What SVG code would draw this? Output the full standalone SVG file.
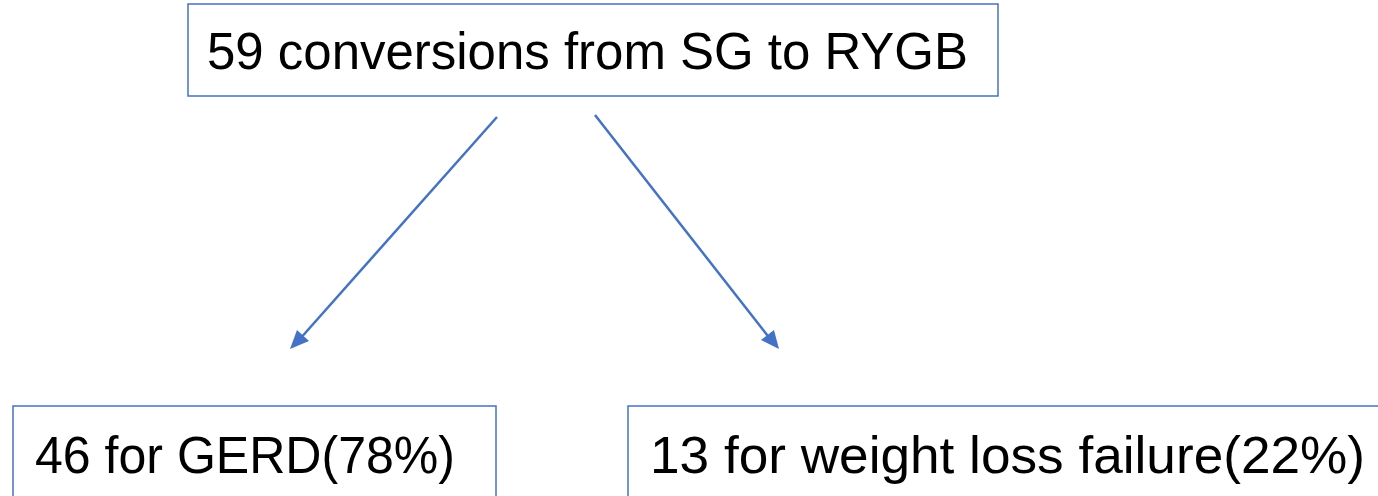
<svg xmlns="http://www.w3.org/2000/svg" width="1378" height="496" viewBox="0 0 1378 496">
  <style>
    .box { fill: #ffffff; stroke: #4472C4; stroke-width: 1.5; }
    .label { font-family: "Liberation Sans", Arial, sans-serif; font-size: 52px; fill: #000000; }
    .edge { stroke: #4472C4; stroke-width: 2.5; fill: none; }
    .head { fill: #4472C4; }
  </style>
  <rect width="1378" height="496" fill="#ffffff"/>

  <!-- split arrows from the total down to the two causes -->
  <g id="connectors">
    <line class="edge" x1="497" y1="117" x2="299" y2="340"/>
    <path class="head" d="M290,349 L297,330 L309,341 z"/>
    <line class="edge" x1="595" y1="115" x2="771" y2="340"/>
    <path class="head" d="M779,349 L761,340 L774,330 z"/>
  </g>

  <g id="node-total">
    <rect class="box" x="188" y="4" width="810" height="92"/>
    <text class="label" x="207" y="69" textLength="761" lengthAdjust="spacingAndGlyphs">59 conversions from SG to RYGB</text>
  </g>

  <g id="node-gerd">
    <rect class="box" x="13" y="406" width="483" height="100"/>
    <text class="label" x="35" y="473" textLength="420" lengthAdjust="spacingAndGlyphs">46 for GERD(78%)</text>
  </g>

  <g id="node-weight">
    <rect class="box" x="628" y="406" width="760" height="100"/>
    <text class="label" x="650" y="473" textLength="715" lengthAdjust="spacingAndGlyphs">13 for weight loss failure(22%)</text>
  </g>
</svg>
